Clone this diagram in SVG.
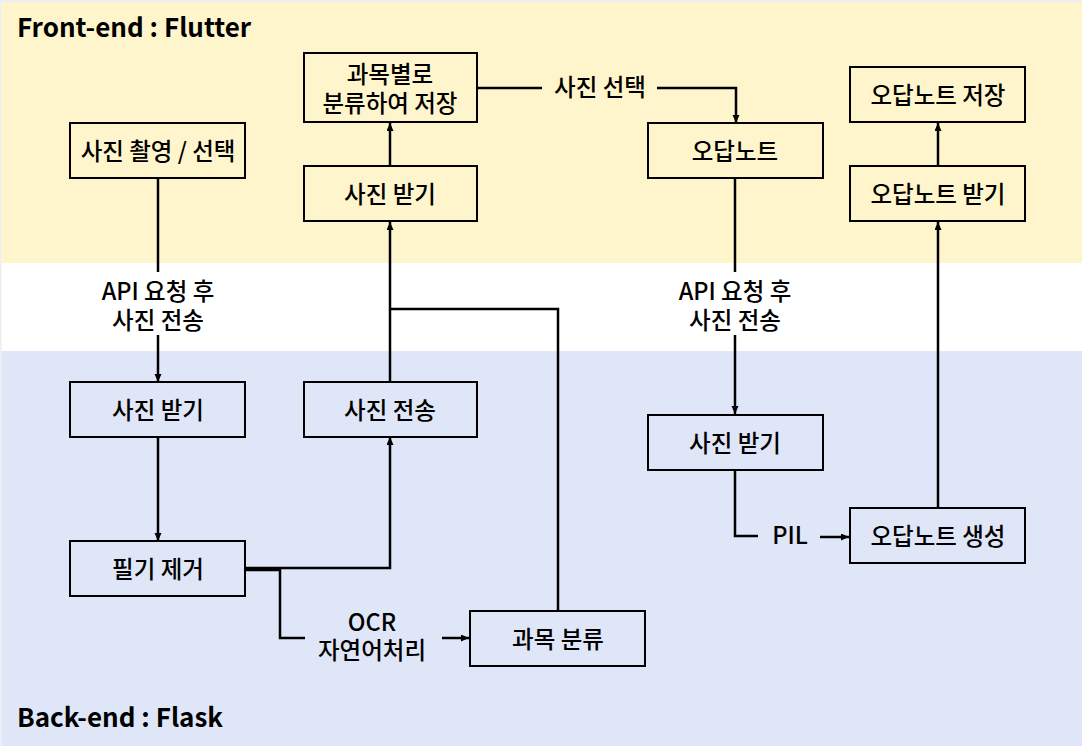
<svg xmlns="http://www.w3.org/2000/svg" width="1082" height="746" viewBox="0 0 1082 746">
<defs>
<style>
.box{fill:none;stroke:#000;stroke-width:2}
.t{font-family:"Noto Sans CJK KR","Noto Sans",sans-serif;font-size:23.5px;font-weight:500;fill:#000;text-anchor:middle;dominant-baseline:central}
.lbl{font-family:"Noto Sans CJK KR","Noto Sans",sans-serif;font-size:23.5px;font-weight:500;fill:#000;text-anchor:middle}
.title{font-family:"Noto Sans CJK KR","Noto Sans",sans-serif;font-size:26px;font-weight:700;fill:#000}
.c{fill:none;stroke:#000;stroke-width:2.5}
</style>
<marker id="ah" markerUnits="userSpaceOnUse" markerWidth="9" markerHeight="8" refX="8" refY="3.5" orient="auto">
<path d="M0,0 L8,3.5 L0,7 z" fill="#000"/>
</marker>
</defs>
<rect x="0" y="0" width="1082" height="746" fill="#fff"/>
<rect x="0" y="0" width="1082" height="2" fill="#ECEEF2"/>
<rect x="0" y="0" width="1.5" height="746" fill="#ECEEF2"/>
<rect x="1.5" y="2" width="1080.5" height="261" fill="#FFF5CC"/>
<rect x="1.5" y="351" width="1080.5" height="395" fill="#DFE6F7"/>
<text class="title" x="17" y="37">Front-end : Flutter</text>
<text class="title" x="17" y="727">Back-end : Flask</text>

<g id="connectors">
<path class="c" d="M158 178 V272"/>
<path class="c" d="M158 335 V382" marker-end="url(#ah)"/>
<path class="c" d="M158 437 V541" marker-end="url(#ah)"/>
<path class="c" d="M245 568 H390 V437" marker-end="url(#ah)"/>
<path class="c" d="M245 570 H280 V638 H305"/>
<path class="c" d="M442 638 H469" marker-end="url(#ah)"/>
<path class="c" d="M558 611 V309 H390"/>
<path class="c" d="M390 382 V222" marker-end="url(#ah)"/>
<path class="c" d="M390 166 V123" marker-end="url(#ah)"/>
<path class="c" d="M478 88 H542"/>
<path class="c" d="M657 88 H736 V123" marker-end="url(#ah)"/>
<path class="c" d="M735 178 V272"/>
<path class="c" d="M735 335 V414" marker-end="url(#ah)"/>
<path class="c" d="M735 470 V536 H758"/>
<path class="c" d="M820 537 H849" marker-end="url(#ah)"/>
<path class="c" d="M938 507 V222" marker-end="url(#ah)"/>
<path class="c" d="M938 166 V123" marker-end="url(#ah)"/>
<text class="lbl" x="158" y="300">API 요청 후</text>
<text class="lbl" x="158" y="329">사진 전송</text>
<text class="lbl" x="735" y="300">API 요청 후</text>
<text class="lbl" x="735" y="329">사진 전송</text>
<text class="lbl" x="600" y="96">사진 선택</text>
<text class="lbl" x="372" y="631">OCR</text>
<text class="lbl" x="372" y="659">자연어처리</text>
<text class="lbl" x="790" y="544">PIL</text>
</g>

<g id="n-save-subject"><rect class="box" x="304" y="53" width="173" height="69"/><text class="t" x="390" y="73">과목별로</text><text class="t" x="390" y="102">분류하여 저장</text></g>
<g id="n-capture"><rect class="box" x="70" y="123" width="175" height="55"/><text class="t" x="158" y="150">사진 촬영 / 선택</text></g>
<g id="n-recv-front"><rect class="box" x="304" y="166" width="173" height="55"/><text class="t" x="390" y="193">사진 받기</text></g>
<g id="n-note"><rect class="box" x="648" y="123" width="175" height="55"/><text class="t" x="735" y="150">오답노트</text></g>
<g id="n-note-save"><rect class="box" x="850" y="67" width="175" height="55"/><text class="t" x="938" y="94">오답노트 저장</text></g>
<g id="n-note-recv"><rect class="box" x="850" y="166" width="175" height="55"/><text class="t" x="938" y="193">오답노트 받기</text></g>
<g id="n-recv-back"><rect class="box" x="70" y="382" width="175" height="55"/><text class="t" x="158" y="409">사진 받기</text></g>
<g id="n-send"><rect class="box" x="304" y="382" width="173" height="55"/><text class="t" x="390" y="409">사진 전송</text></g>
<g id="n-remove"><rect class="box" x="70" y="541" width="175" height="55"/><text class="t" x="158" y="568">필기 제거</text></g>
<g id="n-classify"><rect class="box" x="470" y="611" width="175" height="55"/><text class="t" x="558" y="638">과목 분류</text></g>
<g id="n-recv-back2"><rect class="box" x="648" y="415" width="175" height="55"/><text class="t" x="735" y="442">사진 받기</text></g>
<g id="n-generate"><rect class="box" x="850" y="508" width="175" height="55"/><text class="t" x="938" y="535">오답노트 생성</text></g>
</svg>
